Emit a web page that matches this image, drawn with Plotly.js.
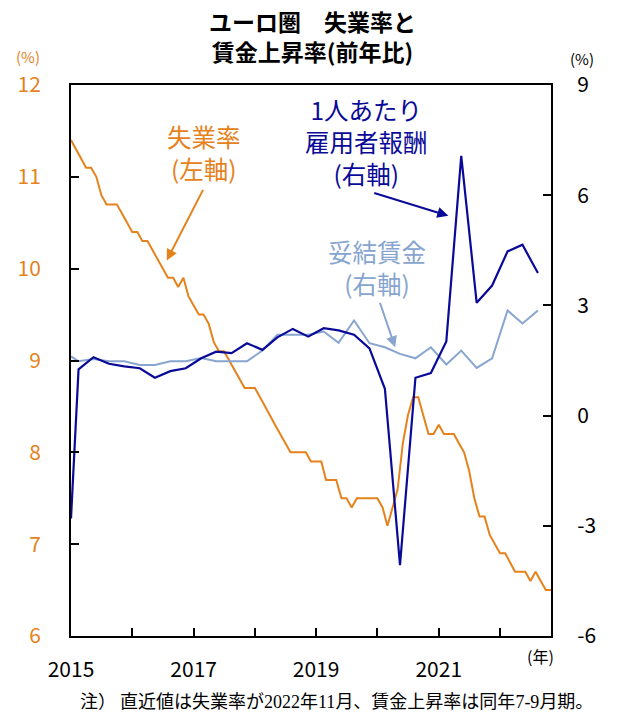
<!DOCTYPE html>
<html>
<head>
<meta charset="utf-8">
<script src="https://cdn.plot.ly/plotly-3.0.1.min.js"></script>
<style>
html,body{margin:0;padding:0;background:#fff;}
#chart{width:620px;height:716px;}
</style>
</head>
<body>
<div id="chart"></div>
<script>
// ---- Data ----
// Unemployment rate, monthly, Jan 2015 – Nov 2022 (left axis, %)
const unemployment = [
  11.4,11.3,11.2,11.1,11.1,11.0,10.8,10.7,10.7,10.7,10.6,10.5, // 2015
  10.4,10.4,10.3,10.3,10.2,10.1,10.0,9.9,9.9,9.8,9.9,9.7,      // 2016
  9.6,9.5,9.5,9.4,9.2,9.1,9.1,9.0,8.9,8.8,8.7,8.7,             // 2017
  8.7,8.6,8.5,8.4,8.3,8.2,8.1,8.0,8.0,8.0,8.0,7.9,             // 2018
  7.9,7.9,7.7,7.7,7.7,7.5,7.5,7.4,7.5,7.5,7.5,7.5,             // 2019
  7.5,7.4,7.2,7.4,7.6,8.1,8.4,8.6,8.6,8.4,8.2,8.2,             // 2020
  8.3,8.2,8.2,8.2,8.1,8.0,7.8,7.5,7.3,7.3,7.1,7.0,             // 2021
  6.9,6.9,6.8,6.7,6.7,6.7,6.6,6.7,6.6,6.5,6.5                  // 2022 (to Nov)
];
// Quarterly wage series (right axis, % y/y): first value at Jan 2015, then 2015Q1 … 2022Q3
const wageDates = [
  '2015-01-01',
  '2015-02-15','2015-05-15','2015-08-15','2015-11-15',
  '2016-02-15','2016-05-15','2016-08-15','2016-11-15',
  '2017-02-15','2017-05-15','2017-08-15','2017-11-15',
  '2018-02-15','2018-05-15','2018-08-15','2018-11-15',
  '2019-02-15','2019-05-15','2019-08-15','2019-11-15',
  '2020-02-15','2020-05-15','2020-08-15','2020-11-15',
  '2021-02-15','2021-05-15','2021-08-15','2021-11-15',
  '2022-02-15','2022-05-15','2022-08-15'
];
const compensation = [
  -2.8,
  1.26,1.59,1.41,1.34,
  1.29,1.03,1.21,1.29,
  1.56,1.74,1.70,1.97,
  1.79,2.13,2.36,2.15,
  2.38,2.32,2.20,1.83,
  0.73,-4.07,1.03,1.16,
  2.02,7.07,3.07,3.54,
  4.47,4.65,3.88
];
const negotiated = [
  1.61,
  1.48,1.54,1.48,1.48,
  1.38,1.38,1.48,1.48,
  1.57,1.48,1.48,1.48,
  1.77,2.20,2.20,2.20,
  2.29,1.98,2.59,1.97,
  1.86,1.68,1.56,1.86,
  1.39,1.77,1.30,1.56,
  2.86,2.51,2.86
];
const leftTicks = [6,7,8,9,10,11,12];
const rightTicks = [-6,-3,0,3,6,9];

// monthly dates for the unemployment series
const monthDates = unemployment.map((v,i)=>{
  const y = 2015 + Math.floor(i/12), m = (i%12)+1;
  return y + '-' + String(m).padStart(2,'0') + '-01';
});

const ORANGE = '#E5821C', NAVY = '#0A0A98', LIGHT = '#87A5CF';
const FONT = '"Noto Sans CJK JP", "Noto Sans", sans-serif';

const traces = [
  {x: monthDates, y: unemployment, type:'scatter', mode:'lines', yaxis:'y',
   line:{color:ORANGE, width:2}, hoverinfo:'skip'},
  {x: wageDates, y: negotiated, type:'scatter', mode:'lines', yaxis:'y2',
   line:{color:LIGHT, width:2}, hoverinfo:'skip'},
  {x: wageDates, y: compensation, type:'scatter', mode:'lines', yaxis:'y2',
   line:{color:NAVY, width:2.2}, hoverinfo:'skip'}
];

// helpers: pixel -> paper fraction of the plot area (71..551 x 85..636)
const PL=71, PR=551, PT=85, PB=636;
const fx = px => (px-PL)/(PR-PL);
const fy = py => (PB-py)/(PB-PT);

function txt(text, px, py, color, size, extra){
  return Object.assign({text, x:fx(px), y:fy(py), xref:'paper', yref:'paper',
    xanchor:'center', yanchor:'middle', showarrow:false, align:'center',
    font:{family:FONT, size, color}}, extra||{});
}
function arrow(x, y, yref, ax, ay, color){
  return {text:'', x, y, xref:'x', yref, ax, ay, axref:'pixel', ayref:'pixel',
    showarrow:true, arrowhead:2, arrowsize:1.1, arrowwidth:2, arrowcolor:color, standoff:0};
}

const serif = s => '<span style="font-family:\'Liberation Serif\', serif">' + s + '</span>';

const annotations = [
  txt('<b>ユーロ圏　失業率と</b><br><b>賃金上昇率(前年比)</b>', 312, 36, '#000', 23),
  txt('(%)', 28, 57, ORANGE, 15),
  txt('(%)', 582, 58, '#000', 15),
  txt('(年)', 540, 656, '#000', 16),
  txt('失業率<br>(左軸)', 204, 152.5, ORANGE, 24.5),
  txt('1人あたり<br>雇用者報酬<br>(右軸)', 366, 141.5, NAVY, 24.5),
  txt('妥結賃金<br>(右軸)', 377, 267.5, LIGHT, 24.5),
  txt('注） 直近値は失業率が' + serif('2022') + '年' + serif('11') + '月、賃金上昇率は同年' + serif('7-9') + '月期。',
      336, 700, '#000', 18),
  arrow('2016-07-25', 10.09, 'y', 37, -72, ORANGE),
  arrow('2021-02-27', 5.44, 'y2', -75.6, -23.3, NAVY),
  arrow('2020-04-16', 1.86, 'y2', -15.7, -46, LIGHT)
];

const layout = {
  width:620, height:716,
  margin:{l:PL, r:620-PR, t:PT, b:716-PB, pad:0},
  paper_bgcolor:'#fff', plot_bgcolor:'#fff',
  showlegend:false,
  font:{family:FONT, size:21, color:'#000'},
  xaxis:{
    type:'date', range:['2015-01-01','2022-11-01'],
    tick0:'2015-01-01', dtick:'M24', tickformat:'%Y',
    ticks:'inside', ticklen:8, tickwidth:2, tickcolor:'#000',
    minor:{dtick:'M12', tick0:'2015-01-01', ticks:'inside', ticklen:8, tickwidth:2, tickcolor:'#000', showgrid:false},
    showline:true, linecolor:'#000', linewidth:2, mirror:true,
    showgrid:false, zeroline:false, ticklabelstandoff:14,
    tickfont:{family:FONT, size:21, color:'#000'}, fixedrange:true
  },
  yaxis:{
    range:[6,12], tickvals:leftTicks, ticktext:leftTicks.map(String),
    ticks:'inside', ticklen:8, tickwidth:2, tickcolor:'#000',
    showline:true, linecolor:'#000', linewidth:2,
    showgrid:false, zeroline:false, ticklabelstandoff:24,
    tickfont:{family:FONT, size:21, color:ORANGE}, fixedrange:true
  },
  yaxis2:{
    range:[-6,9], tickvals:rightTicks, ticktext:rightTicks.map(String),
    overlaying:'y', side:'right',
    ticks:'inside', ticklen:8, tickwidth:2, tickcolor:'#000',
    showline:true, linecolor:'#000', linewidth:2,
    showgrid:false, zeroline:false, ticklabelstandoff:20,
    tickfont:{family:FONT, size:21, color:'#000'}, fixedrange:true
  },
  annotations
};

Plotly.newPlot('chart', traces, layout, {staticPlot:true, displayModeBar:false});
</script>
</body>
</html>
